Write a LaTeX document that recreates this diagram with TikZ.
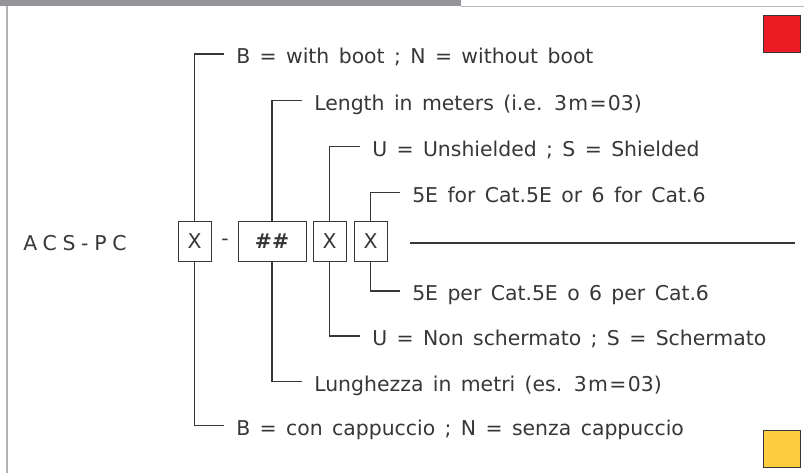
\documentclass[tikz,border=0pt]{standalone}
\usepackage{fontspec}
\setmainfont{DejaVu Sans}
\newfontfamily\spacedfont[LetterSpace=28]{DejaVu Sans}
\usetikzlibrary{positioning}

\definecolor{barGray}{RGB}{147,149,152}
\definecolor{inkGray}{RGB}{55,55,55}
\definecolor{codeRed}{RGB}{237,28,36}
\definecolor{codeYellow}{RGB}{255,205,64}

\newcommand{\legendfont}{\fontsize{15.3}{18}\selectfont\spaceskip=0.46em\relax}

\tikzset{
  codebox/.style={draw=inkGray, rectangle, minimum width=24.75pt, minimum height=30pt, inner sep=0pt, text=inkGray, font=\fontsize{15.3}{18}\selectfont},
  legend/.style={anchor=west, inner xsep=9pt, inner ysep=0pt, text height=15pt, text depth=0pt, text=inkGray, font=\legendfont},
  link/.style={draw=inkGray, line width=1pt}
}

\begin{document}
\begin{tikzpicture}[x=0.75pt, y=-0.75pt]

\useasboundingbox (0, 0) rectangle (804, 473);

% Page frame
\fill[barGray] (0, 0) rectangle (461, 6);
\draw[gray!55, line width=0.8pt] (461, 6.5) -- (804, 6.5);
\draw[gray!60, line width=1.3pt] (7, 6) -- (7, 473);

% Colour marks
\node[draw=inkGray, fill=codeRed, minimum width=27.75pt, minimum height=27.75pt, inner sep=0pt] (redmark) at (781.5, 33.5) {};
\node[draw=inkGray, fill=codeYellow, minimum width=27.75pt, minimum height=27.75pt, inner sep=0pt] (yellowmark) at (781.5, 449) {};

% Part number
\node[anchor=west, inner sep=0pt, text=inkGray, font=\fontsize{15.3}{18}\spacedfont] (prefix) at (23, 243) {ACS-PC};

% Code fields
\node[codebox] (boot) at (194.5, 241) {X};
\node[text=inkGray, font=\fontsize{15.3}{18}\selectfont] (dash) at (225, 242) {-};
\node[codebox, minimum width=51pt] (length) at (272, 241) {\textbf{\#\#}};
\node[codebox] (shield) at (329.5, 241) {X};
\node[codebox] (cat) at (370.5, 241) {X};

% English legend
\node[legend] (bootEN) at (224, 54) {B = with boot ; N = without boot};
\node[legend] (lengthEN) at (302, 100.5) {Length in meters (i.e. 3\kern1pt m\kern1pt=\kern1pt03)};
\node[legend] (shieldEN) at (360, 146.5) {U = Unshielded ; S = Shielded};
\node[legend] (catEN) at (400, 192.5) {5E for Cat.5E or 6 for Cat.6};

% Italian legend
\node[legend] (catIT) at (400, 291) {5E per Cat.5E o 6 per Cat.6};
\node[legend] (shieldIT) at (360, 336) {U = Non schermato ; S = Schermato};
\node[legend] (lengthIT) at (302, 381.5) {Lunghezza in metri (es. 3\kern1pt m\kern1pt=\kern1pt03)};
\node[legend] (bootIT) at (224, 425.5) {B = con cappuccio ; N = senza cappuccio};

% Connections
\draw[link] (boot.north) |- (bootEN.west);
\draw[link] (length.north) |- (lengthEN.west);
\draw[link] (shield.north) |- (shieldEN.west);
\draw[link] (cat.north) |- (catEN.west);
\draw[link] (cat.south) |- (catIT.west);
\draw[link] (shield.south) |- (shieldIT.west);
\draw[link] (length.south) |- (lengthIT.west);
\draw[link] (boot.south) |- (bootIT.west);

% Cable line
\coordinate (cableL) at (410, 243);
\coordinate (cableR) at (795, 243);
\draw[link] (cableL) -- (cableR);

\end{tikzpicture}
\end{document}
